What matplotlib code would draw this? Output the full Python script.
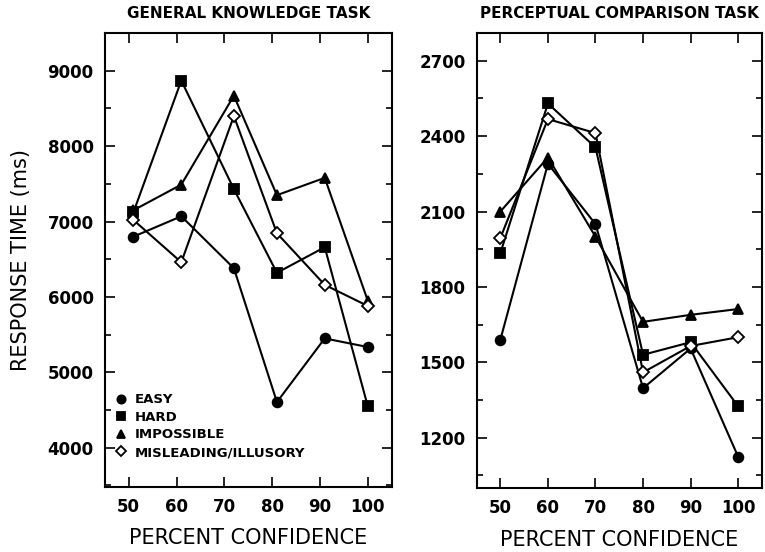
import numpy as np
import matplotlib
matplotlib.use("Agg")
import matplotlib.pyplot as plt
from matplotlib.ticker import MultipleLocator

# general knowledge task (x positions are slightly jittered in the original)
gk_x = [51, 61, 72, 81, 91, 100]
gk_easy = [6800, 7070, 6380, 4605, 5450, 5335]
gk_hard = [7125, 8870, 7430, 6320, 6660, 4550]
gk_impossible = [7150, 7490, 8670, 7350, 7580, 5950]
gk_misleading = [7020, 6460, 8400, 6845, 6160, 5880]

# perceptual comparison task
pc_x = [50, 60, 70, 80, 90, 100]
pc_easy = [1590, 2290, 2050, 1397, 1555, 1124]
pc_hard = [1935, 2530, 2355, 1530, 1580, 1325]
pc_impossible = [2100, 2315, 2000, 1661, 1689, 1712]
pc_misleading = [1995, 2468, 2412, 1460, 1565, 1600]

labels = ['EASY', 'HARD', 'IMPOSSIBLE', 'MISLEADING/ILLUSORY']
markers = ['o', 's', '^', 'D']

fig = plt.figure(figsize=(7.65, 5.52), dpi=100)
ax1 = fig.add_axes([0.137, 0.118, 0.375, 0.822])
ax2 = fig.add_axes([0.623, 0.116, 0.373, 0.824])


def draw(ax, x, series):
	for ys, m, lab in zip(series, markers, labels):
		open_marker = (m == 'D')
		ax.plot(x, ys, color='black', lw=1.5, marker=m,
			markersize=7 if m != 'D' else 6,
			markerfacecolor='white' if open_marker else 'black',
			markeredgecolor='black', markeredgewidth=1.3, label=lab)
	ax.set_xlim(45, 105)
	ax.set_xticks([50, 60, 70, 80, 90, 100])
	ax.tick_params(which='both', direction='in', top=True, right=True, width=1.2)
	ax.tick_params(which='major', length=7, labelsize=12, pad=8)
	ax.tick_params(which='minor', length=4)
	for lbl in ax.get_xticklabels() + ax.get_yticklabels():
		lbl.set_fontweight('bold')
	for sp in ax.spines.values():
		sp.set_linewidth(1.5)
	ax.set_xlabel('PERCENT CONFIDENCE', fontsize=15, labelpad=9)


draw(ax1, gk_x, [gk_easy, gk_hard, gk_impossible, gk_misleading])
ax1.set_ylim(3480, 9500)
ax1.yaxis.set_major_locator(MultipleLocator(1000))
ax1.yaxis.set_minor_locator(MultipleLocator(500))
ax1.set_title('GENERAL KNOWLEDGE TASK', fontsize=11, fontweight='bold', pad=11)
ax1.set_ylabel('RESPONSE TIME (ms)', fontsize=15, labelpad=12)
ax1.legend(loc='lower left', bbox_to_anchor=(0.0, 0.035), frameon=False,
	handlelength=0.6, handletextpad=0.8, labelspacing=0.35,
	prop={'weight': 'bold', 'size': 9.5}, markerscale=0.85)
leg = ax1.get_legend()
for h in leg.legend_handles:
	h.set_linestyle('')

draw(ax2, pc_x, [pc_easy, pc_hard, pc_impossible, pc_misleading])
ax2.set_ylim(1000, 2810)
ax2.yaxis.set_major_locator(MultipleLocator(300))
ax2.yaxis.set_minor_locator(MultipleLocator(150))
ax2.set_title('PERCEPTUAL COMPARISON TASK', fontsize=11, fontweight='bold', pad=11)

fig.savefig('out.png', dpi=100)
